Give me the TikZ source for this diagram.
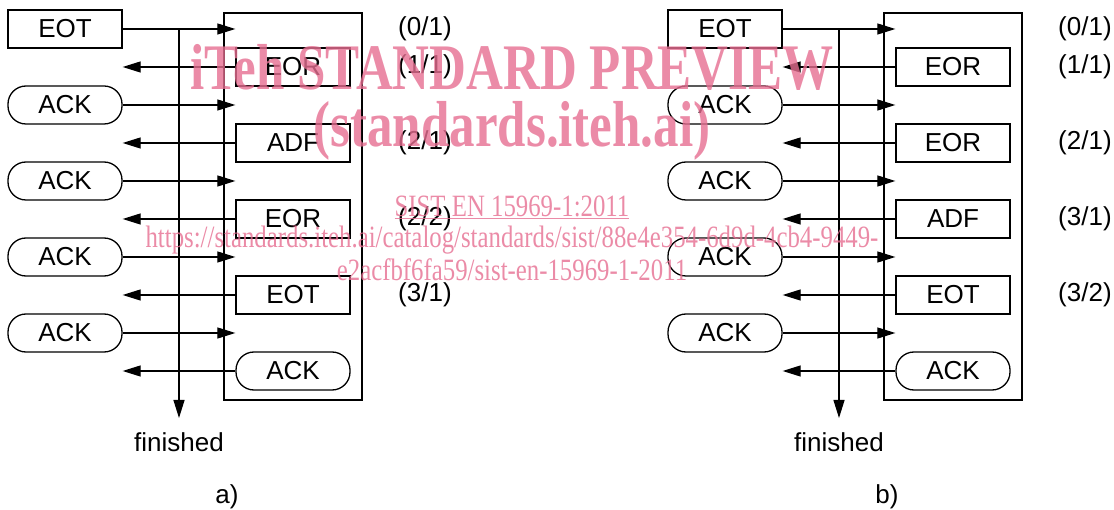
\documentclass[tikz,border=0pt]{standalone}
\usepackage{fontspec}
\setmainfont{Liberation Sans}
\newfontfamily\wmfont{Liberation Serif}
\usetikzlibrary{arrows.meta,calc,positioning}
\definecolor{wmpink}{RGB}{230,110,145}

\begin{document}
\begin{tikzpicture}[
  x=1pt, y=-1pt,
  font=\fontsize{26pt}{30pt}\selectfont,
  msg/.style={draw=black, line width=1.3pt, minimum width=114pt,
              minimum height=38pt, inner sep=0pt},
  ackbox/.style={msg, rounded corners=18pt},
  frame/.style={draw=black, line width=1.3pt, minimum width=138pt,
                minimum height=387pt, inner sep=0pt},
  arr/.style={-{Triangle[length=18pt,width=11pt]}, line width=1.2pt},
  seq/.style={anchor=west, inner sep=0pt},
  txt/.style={inner sep=0pt},
  wm/.style={inner sep=0pt, text=wmpink, text opacity=0.8},
]
\useasboundingbox (0,0) rectangle (1114,510);

% ---- a) ----
\node[frame] (frameA) at (293,206.5) {};
\node[msg]    (eotA)  at (65,29)  {EOT};
\node[ackbox] (ackA1) at (65,105) {ACK};
\node[ackbox] (ackA2) at (65,181) {ACK};
\node[ackbox] (ackA3) at (65,257) {ACK};
\node[ackbox] (ackA4) at (65,333) {ACK};

\node[msg]    (eorA1) at (293,67)  {EOR};
\node[msg]    (adfA)  at (293,143) {ADF};
\node[msg]    (eorA2) at (293,219) {EOR};
\node[msg]    (eotA2) at (293,295) {EOT};
\node[ackbox] (ackA5) at (293,371) {ACK};

\node[seq] (cntA1) at (398,29)  {(0/1)};
\node[seq] (cntA2) at (398,67)  {(1/1)};
\node[seq] (cntA3) at (398,143) {(2/1)};
\node[seq] (cntA4) at (398,219) {(2/2)};
\node[seq] (cntA5) at (398,295) {(3/1)};

\draw[arr] (eotA)  -- (eotA -| eorA1.west);
\draw[arr] (eorA1) -- (eorA1 -| eotA.east);
\draw[arr] (ackA1) -- (ackA1 -| eorA1.west);
\draw[arr] (adfA)  -- (adfA -| eotA.east);
\draw[arr] (ackA2) -- (ackA2 -| eorA1.west);
\draw[arr] (eorA2) -- (eorA2 -| eotA.east);
\draw[arr] (ackA3) -- (ackA3 -| eorA1.west);
\draw[arr] (eotA2) -- (eotA2 -| eotA.east);
\draw[arr] (ackA4) -- (ackA4 -| eorA1.west);
\draw[arr] (ackA5) -- (ackA5 -| eotA.east);

\coordinate (splitA) at (179,29);
\coordinate (endA)   at (179,418);
\node[txt, anchor=base] (finA) at (179,452) {finished};
\draw[arr] (splitA) -- (endA);
\node[txt, anchor=base] (capA) at (227,503) {a)};

% ---- b) ----
\node[frame] (frameB) at (953,206.5) {};
\node[msg]    (eotB)  at (725,29)  {EOT};
\node[ackbox] (ackB1) at (725,105) {ACK};
\node[ackbox] (ackB2) at (725,181) {ACK};
\node[ackbox] (ackB3) at (725,257) {ACK};
\node[ackbox] (ackB4) at (725,333) {ACK};

\node[msg]    (eorB1) at (953,67)  {EOR};
\node[msg]    (eorB2) at (953,143) {EOR};
\node[msg]    (adfB)  at (953,219) {ADF};
\node[msg]    (eotB2) at (953,295) {EOT};
\node[ackbox] (ackB5) at (953,371) {ACK};

\node[seq] (cntB1) at (1058,29)  {(0/1)};
\node[seq] (cntB2) at (1058,67)  {(1/1)};
\node[seq] (cntB3) at (1058,143) {(2/1)};
\node[seq] (cntB4) at (1058,219) {(3/1)};
\node[seq] (cntB5) at (1058,295) {(3/2)};

\draw[arr] (eotB)  -- (eotB -| eorB1.west);
\draw[arr] (eorB1) -- (eorB1 -| eotB.east);
\draw[arr] (ackB1) -- (ackB1 -| eorB1.west);
\draw[arr] (eorB2) -- (eorB2 -| eotB.east);
\draw[arr] (ackB2) -- (ackB2 -| eorB1.west);
\draw[arr] (adfB)  -- (adfB -| eotB.east);
\draw[arr] (ackB3) -- (ackB3 -| eorB1.west);
\draw[arr] (eotB2) -- (eotB2 -| eotB.east);
\draw[arr] (ackB4) -- (ackB4 -| eorB1.west);
\draw[arr] (ackB5) -- (ackB5 -| eotB.east);

\coordinate (splitB) at (839,29);
\coordinate (endB)   at (839,418);
\node[txt, anchor=base] (finB) at (839,452) {finished};
\draw[arr] (splitB) -- (endB);
\node[txt, anchor=base] (capB) at (887,503) {b)};

% ---- watermark ----
\node[wm] (wmTitle) at (512,67)
  {\wmfont\bfseries\fontsize{65pt}{70pt}\selectfont\scalebox{0.785}[1]{iTeh STANDARD PREVIEW}};
\node[wm] (wmSite) at (512,131)
  {\wmfont\bfseries\fontsize{65pt}{70pt}\selectfont\scalebox{0.785}[1]{(standards.iteh.ai)}};
\node[wm] (wmCode) at (512,207)
  {\wmfont\fontsize{31pt}{34pt}\selectfont\scalebox{0.8}[1]{\underline{SIST EN 15969-1:2011}}};
\node[wm] (wmUrl) at (512,240)
  {\wmfont\fontsize{31pt}{34pt}\selectfont\scalebox{0.8}[1]{https://standards.iteh.ai/catalog/standards/sist/88e4e354-6d9d-4cb4-9449-}};
\node[wm] (wmUrlEnd) at (512,270)
  {\wmfont\fontsize{31pt}{34pt}\selectfont\scalebox{0.8}[1]{e2acfbf6fa59/sist-en-15969-1-2011}};
\end{tikzpicture}
\end{document}
